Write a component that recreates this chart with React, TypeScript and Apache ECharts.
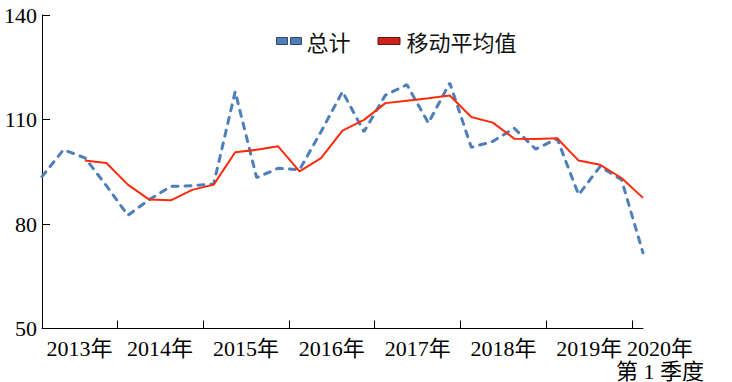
import React, { useEffect, useRef } from "react";
import * as echarts from "echarts";

const quarterKeys = [
  "2013Q1", "2013Q2", "2013Q3", "2013Q4",
  "2014Q1", "2014Q2", "2014Q3", "2014Q4",
  "2015Q1", "2015Q2", "2015Q3", "2015Q4",
  "2016Q1", "2016Q2", "2016Q3", "2016Q4",
  "2017Q1", "2017Q2", "2017Q3", "2017Q4",
  "2018Q1", "2018Q2", "2018Q3", "2018Q4",
  "2019Q1", "2019Q2", "2019Q3", "2019Q4",
  "2020Q1",
];

const totalValues = [
  93.6, 101.3, 99.0, 91.0,
  82.5, 87.0, 90.8, 91.0,
  91.5, 118.0, 93.3, 96.0,
  95.6, 106.5, 118.0, 106.5,
  117.0, 120.0, 109.0, 120.5,
  102.0, 103.7, 107.5, 101.5,
  104.5, 88.4, 96.5, 92.7,
  71.7,
];

const movingAvgValues: (number | null)[] = [
  null, null, 98.2, 97.5,
  91.3, 87.0, 86.8, 89.8,
  91.3, 100.6, 101.3, 102.3,
  95.1, 98.9, 106.8, 109.9,
  114.7, 115.4, 116.1, 116.9,
  110.7, 109.1, 104.5, 104.4,
  104.6, 98.2, 97.0, 93.2,
  87.5,
];

const yearLabels = ["2013年", "2014年", "2015年", "2016年", "2017年", "2018年", "2019年", "2020年"];
// axis values (quarter index) where each year label sits
const yearLabelAt = [1.75, 5.5, 9.5, 13.5, 17.5, 21.5, 25.5, 28];
// year boundary ticks (between Q4 and Q1)
const yearTickAt = [3.5, 7.5, 11.5, 15.5, 19.5, 23.5, 27.5];
const lastNote = "第 1 季度";

const yMin = 50;
const yMax = 140;
const yStep = 30;

const seriesNames = ["总计", "移动平均值"];

const SERIF = "'Liberation Serif', 'Times New Roman', 'Noto Sans CJK SC', serif";
const SANS = "'Noto Sans CJK SC', 'Noto Sans', sans-serif";

export default function App() {
  const ref = useRef<HTMLDivElement>(null);

  useEffect(() => {
    if (!ref.current) return;
    const chart = echarts.init(ref.current, null, { renderer: "svg" });

    const lastIdx = yearLabels.length - 1;
    const labelFormatter = (val: number) => {
      const idx = yearLabelAt.findIndex((p) => Math.abs(p - val) < 1e-6);
      if (idx < 0) return "";
      if (idx === lastIdx) {
        return `{s|${yearLabels[idx]}}\n{s|${lastNote}}`;
      }
      return `{n|${yearLabels[idx]}}`;
    };

    const richStyles = {
      n: { fontFamily: SERIF, fontSize: 22, color: "#000", lineHeight: 23 },
      s: {
        fontFamily: SERIF,
        fontSize: 22,
        color: "#000",
        lineHeight: 23,
        padding: [0, 0, 0, 34],
      },
    };

    const xMax = quarterKeys.length - 1;

    chart.setOption({
      animation: false,
      backgroundColor: "#ffffff",
      grid: { left: 42, right: 89, top: 15, bottom: 53, containLabel: false },
      legend: {
        left: 271,
        top: 25,
        itemWidth: 25,
        itemHeight: 7,
        itemGap: 27,
        textStyle: { fontFamily: SANS, fontSize: 22, color: "#111" },
        data: [
          {
            name: seriesNames[0],
            icon: "path://M0,0L11,0L11,7L0,7Z M14,0L25,0L25,7L14,7Z",
            itemStyle: { color: "#4f7fba", borderColor: "#33475f", borderWidth: 1 },
          },
          {
            name: seriesNames[1],
            icon: "path://M0,0L22,0L22,7L0,7Z",
            itemStyle: { color: "#d0201a", borderColor: "#5a1a18", borderWidth: 1 },
          },
        ],
      },
      xAxis: [
        {
          type: "value",
          min: 0,
          max: xMax,
          axisLine: { show: true, onZero: false, lineStyle: { color: "#000", width: 1 } },
          axisTick: {
            show: true,
            inside: true,
            length: 8,
            customValues: yearTickAt,
            lineStyle: { color: "#000", width: 1 },
          },
          axisLabel: {
            customValues: yearLabelAt.slice(0, lastIdx),
            formatter: labelFormatter,
            margin: 8,
            color: "#000",
            hideOverlap: false,
            rich: richStyles,
          },
          splitLine: { show: false },
        },
        {
          type: "value",
          position: "bottom",
          min: 0,
          max: xMax,
          axisLine: { show: false, onZero: false },
          axisTick: { show: false },
          axisLabel: {
            customValues: yearLabelAt.slice(lastIdx),
            formatter: labelFormatter,
            margin: 8,
            color: "#000",
            hideOverlap: false,
            showMaxLabel: true,
            rich: richStyles,
          },
          splitLine: { show: false },
        },
      ],
      yAxis: {
        type: "value",
        min: yMin,
        max: yMax,
        interval: yStep,
        axisLine: { show: true, lineStyle: { color: "#000", width: 1 } },
        axisTick: { show: true, inside: true, length: 8, lineStyle: { color: "#000" } },
        axisLabel: {
          margin: 5,
          fontFamily: SERIF,
          fontSize: 22,
          color: "#000",
        },
        splitLine: { show: false },
      },
      series: [
        {
          name: seriesNames[0],
          type: "line",
          xAxisIndex: 0,
          symbol: "none",
          data: totalValues.map((v, i) => [i, v]),
          itemStyle: { color: "#4f7fba" },
          lineStyle: { color: "#4f7fba", width: 3, type: [6, 7], cap: "round" },
          z: 2,
        },
        {
          name: seriesNames[1],
          type: "line",
          xAxisIndex: 0,
          symbol: "none",
          data: movingAvgValues.map((v, i) => [i, v === null ? "-" : v]),
          itemStyle: { color: "#d0201a" },
          lineStyle: { color: "#ff2a0a", width: 2 },
          z: 3,
        },
      ],
    });

    return () => chart.dispose();
  }, []);

  return (
    <div
      ref={ref}
      style={{ position: "fixed", left: 0, top: 0, width: 732, height: 382, background: "#fff" }}
    />
  );
}
